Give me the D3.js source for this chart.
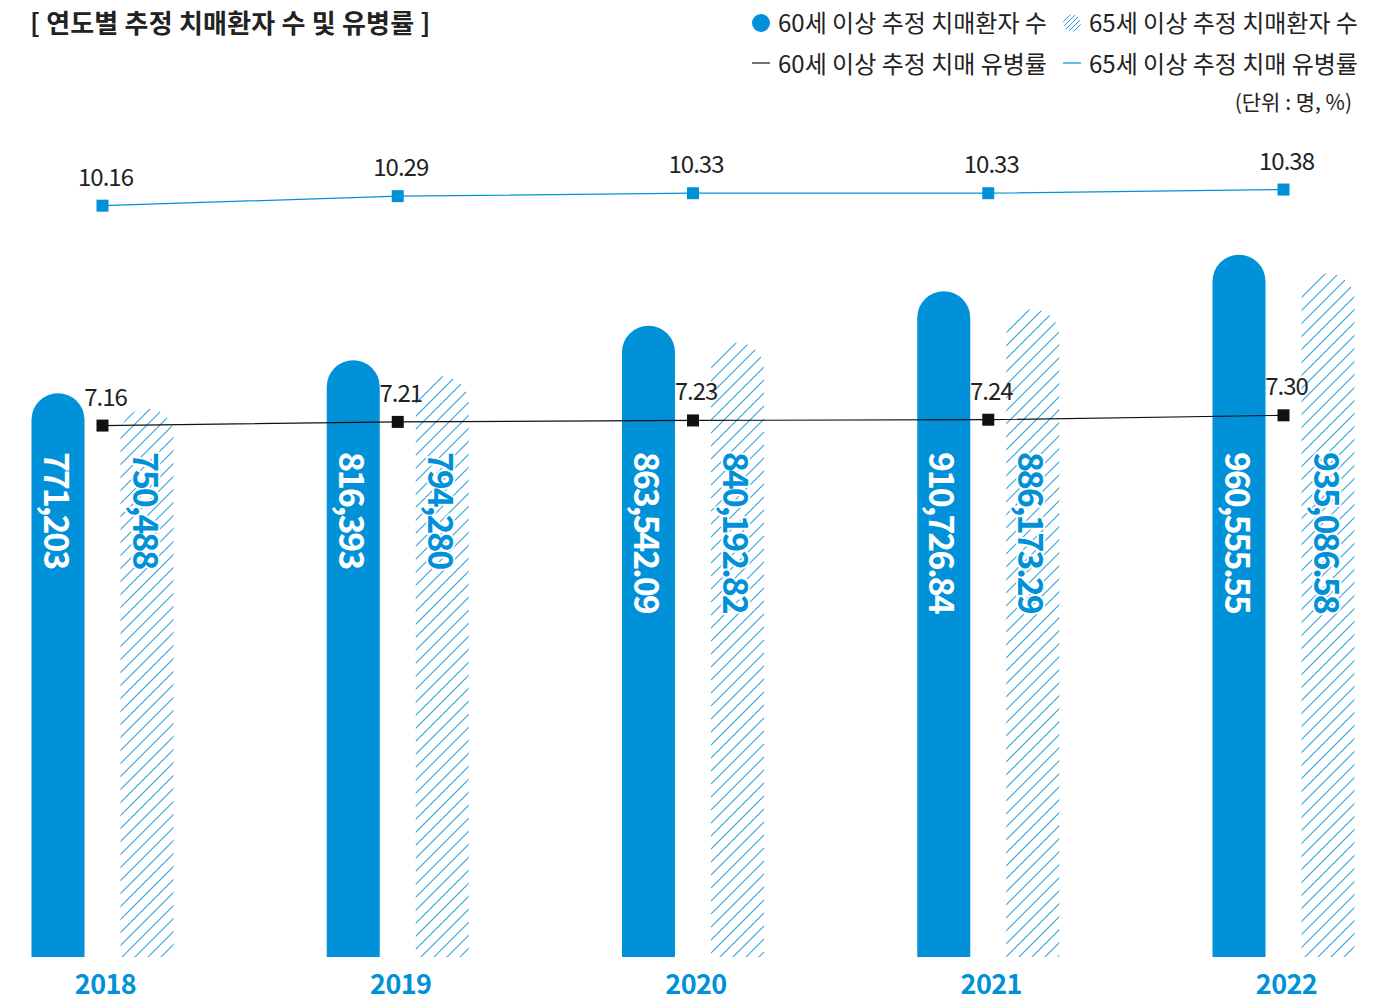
<!DOCTYPE html>
<html><head><meta charset="utf-8">
<script src="https://cdn.jsdelivr.net/npm/d3@7"></script>
<style>
body{margin:0;background:#fff}
svg{display:block}
text{font-family:"Noto Sans CJK KR","Noto Sans",sans-serif}
</style>
</head><body>
<svg id="chart" width="1392" height="1001"></svg>
<script>
const years = ["2018", "2019", "2020", "2021", "2022"];
const patients60 = [771203, 816393, 863542.09, 910726.84, 960555.55];
const patients65 = [750488, 794280, 840192.82, 886173.29, 935086.58];
const patients60Labels = ["771,203", "816,393", "863,542.09", "910,726.84", "960,555.55"];
const patients65Labels = ["750,488", "794,280", "840,192.82", "886,173.29", "935,086.58"];
const prevalence60 = [7.16, 7.21, 7.23, 7.24, 7.30];
const prevalence65 = [10.16, 10.29, 10.33, 10.33, 10.38];
const prevalenceLabels60 = ["7.16", "7.21", "7.23", "7.24", "7.30"];
const prevalenceLabels65 = ["10.16", "10.29", "10.33", "10.33", "10.38"];

const BLUE = "#0091d9";
const HATCH = "#2fa3e3";
const svg = d3.select("#chart");

const defs = svg.append("defs");
const pat = defs.append("pattern").attr("id", "hatch")
  .attr("patternUnits", "userSpaceOnUse").attr("width", 13).attr("height", 13);
pat.append("path").attr("d", "M-2,2 L2,-2 M0,13 L13,0 M11,15 L15,11")
  .attr("stroke", HATCH).attr("stroke-width", 1.1).attr("fill", "none");
const patS = defs.append("pattern").attr("id", "hatchSmall")
  .attr("patternUnits", "userSpaceOnUse").attr("width", 5).attr("height", 5);
patS.append("path").attr("d", "M-1,1 L1,-1 M0,5 L5,0 M4,6 L6,4")
  .attr("stroke", HATCH).attr("stroke-width", 1).attr("fill", "none");

const x = d3.scalePoint().domain(years).range([102.5, 1283.5]);
const yBar = d3.scaleLinear().domain([0, 1000000]).range([957, 226]);
const yLine = d3.scaleLinear().domain([0, 13]).range([950.4, -2.5]);
const barW = 53, off = 44.5;

function barPath(cx, v) {
  const p = d3.path();
  const x0 = cx - barW / 2, r = barW / 2, top = yBar(v), base = yBar(0);
  p.moveTo(x0, base);
  p.lineTo(x0, top + r);
  p.arc(cx, top + r, r, Math.PI, 0);
  p.lineTo(x0 + barW, base);
  p.closePath();
  return p.toString();
}

const g = svg.append("g");
years.forEach((yr, i) => {
  const c = x(yr);
  g.append("path").attr("d", barPath(c - off, patients60[i])).attr("fill", BLUE);
  g.append("path").attr("d", barPath(c + off, patients65[i])).attr("fill", "url(#hatch)");
  g.append("text").attr("transform", `translate(${c - off},452) rotate(90)`)
    .attr("dominant-baseline", "central").attr("font-size", 34).attr("font-weight", 700)
    .attr("letter-spacing", -2.2).attr("fill", "#fff").text(patients60Labels[i]);
  g.append("text").attr("transform", `translate(${c + off},452) rotate(90)`)
    .attr("dominant-baseline", "central").attr("font-size", 34).attr("font-weight", 700)
    .attr("letter-spacing", -2.2).attr("fill", BLUE)
    .attr("stroke", "#fff").attr("stroke-width", 4).attr("paint-order", "stroke")
    .text(patients65Labels[i]);
  g.append("text").attr("x", c + 3).attr("y", 994).attr("text-anchor", "middle")
    .attr("font-size", 27).attr("font-weight", 700).attr("letter-spacing", -0.6)
    .attr("fill", BLUE).text(yr);
});

function drawLine(vals, labels, color) {
  const line = d3.line().x((d, i) => x(years[i])).y(d => yLine(d));
  svg.append("path").attr("d", line(vals)).attr("fill", "none")
    .attr("stroke", color).attr("stroke-width", 1.2);
  svg.selectAll(null).data(vals).enter().append("rect")
    .attr("x", (d, i) => x(years[i]) - 6).attr("y", d => yLine(d) - 6)
    .attr("width", 12).attr("height", 12).attr("fill", color);
  svg.selectAll(null).data(vals).enter().append("text")
    .attr("x", (d, i) => x(years[i]) + 3).attr("y", d => yLine(d) - 20)
    .attr("text-anchor", "middle").attr("font-size", 24).attr("letter-spacing", -1)
    .attr("fill", "#222").text((d, i) => labels[i]);
}
drawLine(prevalence60, prevalenceLabels60, "#111");
drawLine(prevalence65, prevalenceLabels65, BLUE);

// title
svg.append("text").attr("x", 30).attr("y", 33).attr("font-size", 26).attr("font-weight", 700)
  .attr("fill", "#222").attr("letter-spacing", 0.2).text("[ 연도별 추정 치매환자 수 및 유병률 ]");

// legend
const lg = svg.append("g").attr("font-size", 24).attr("fill", "#222").attr("letter-spacing", 0);
lg.append("circle").attr("cx", 761).attr("cy", 23).attr("r", 9).attr("fill", BLUE);
lg.append("text").attr("x", 778).attr("y", 32).text("60세 이상 추정 치매환자 수");
lg.append("circle").attr("cx", 1072).attr("cy", 23).attr("r", 9).attr("fill", "url(#hatchSmall)");
lg.append("text").attr("x", 1089).attr("y", 32).text("65세 이상 추정 치매환자 수");
lg.append("line").attr("x1", 752).attr("x2", 770).attr("y1", 63).attr("y2", 63).attr("stroke", "#111").attr("stroke-width", 1.2);
lg.append("text").attr("x", 778).attr("y", 73).text("60세 이상 추정 치매 유병률");
lg.append("line").attr("x1", 1063).attr("x2", 1081).attr("y1", 63).attr("y2", 63).attr("stroke", BLUE).attr("stroke-width", 1.2);
lg.append("text").attr("x", 1089).attr("y", 73).text("65세 이상 추정 치매 유병률");
svg.append("text").attr("x", 1352).attr("y", 110).attr("text-anchor", "end")
  .attr("font-size", 21).attr("fill", "#222").text("(단위 : 명, %)");
</script>
</body></html>
